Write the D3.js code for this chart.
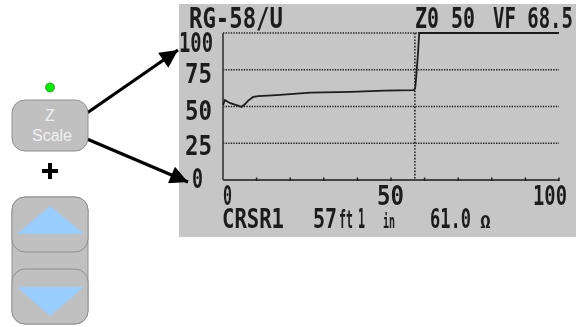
<!DOCTYPE html>
<html><head><meta charset="utf-8">
<script src="https://cdn.jsdelivr.net/npm/d3@7/dist/d3.min.js"></script>
<style>html,body{margin:0;padding:0;background:#fff}svg{display:block}</style>
</head><body><svg id="c" width="576" height="327"></svg>
<script>
const yTicks = [0, 25, 50, 75, 100];
const xTickLabels = [0, 50, 100];
const xMinorTicks = [10, 20, 30, 40, 50, 60, 70, 80, 90, 100];
const traceX = [0, 0.6, 2, 4, 5.5, 6.5, 7.5, 9, 10.5, 16, 26, 38, 48, 56.8, 57.2, 57.5, 58, 58.4, 100];
const traceY = [51, 54.4, 52.4, 51, 49.7, 51.5, 54, 56.5, 57.1, 57.8, 59.4, 60, 60.8, 61.2, 62.5, 70, 85, 100, 100];
const cursorX = 57.1;
const title = "RG-58/U";
const header = ["Z0 50", "VF 68.5"];
const readout = ["CRSR1", "57", "ft", "1", "in", "61.0", "Ω"];
const buttonLabel = ["Z", "Scale"];

const svg = d3.select("#c");
const defs = svg.append("defs");
defs.append("filter").attr("id","soft").attr("x","-5%").attr("y","-5%").attr("width","110%").attr("height","110%")
  .append("feGaussianBlur").attr("stdDeviation",0.45);
defs.append("marker").attr("id","head").attr("viewBox","0 0 10 10").attr("refX",10).attr("refY",5)
  .attr("markerUnits","userSpaceOnUse").attr("markerWidth",20).attr("markerHeight",18).attr("orient","auto")
  .append("path").attr("d","M0,0L10,5L0,10Z").attr("fill","#000");

svg.append("rect").attr("x",179).attr("y",4).attr("width",397).attr("height",233).attr("fill","#c6c6c6");
const x = d3.scaleLinear().domain([0,100]).range([223,559]);
const y = d3.scaleLinear().domain([0,100]).range([180,33]);
const yLab = d3.scaleLinear().domain(yTicks).range([188,155,120,83,52]);
const lcd = svg.append("g").attr("filter","url(#soft)");
const ink = "#1c1c1c";

// Narrow glyphs to the target width by measuring them, then scaling horizontally
function txt(s, x0, x1, base, size){
  const t = lcd.append("text").text(s)
    .attr("font-family","'DejaVu Sans Mono'").attr("font-weight","bold").attr("font-size",size)
    .attr("fill",ink);
  const bb = t.node().getBBox();
  const sx = (x1-x0)/bb.width;
  t.attr("transform",`translate(${x0},${base}) scale(${sx},1)`);
}

// grid
lcd.selectAll("line.grid").data(yTicks.filter(d=>d>0)).join("line")
  .attr("x1",x(0)).attr("x2",x(100)).attr("y1",d=>y(d)).attr("y2",d=>y(d))
  .attr("stroke","#222").attr("stroke-width",1.5).attr("stroke-dasharray","1.4 1.2");
// cursor
lcd.append("line").attr("x1",x(cursorX)).attr("x2",x(cursorX)).attr("y1",y(100)).attr("y2",y(0))
  .attr("stroke","#222").attr("stroke-width",1.6).attr("stroke-dasharray","1.6 1.6");
// axes
lcd.append("line").attr("x1",x(0)).attr("x2",x(0)).attr("y1",y(100)).attr("y2",y(0)).attr("stroke","#444").attr("stroke-width",1.8);
lcd.append("line").attr("x1",x(0)).attr("x2",x(100)).attr("y1",y(0)).attr("y2",y(0)).attr("stroke","#444").attr("stroke-width",1.8);
lcd.selectAll("line.tk").data(xMinorTicks).join("line")
  .attr("x1",d=>x(d)).attr("x2",d=>x(d)).attr("y1",y(0)-2.5).attr("y2",y(0)+1).attr("stroke","#222").attr("stroke-width",1.5);
// trace
const line = d3.line().x(d=>x(d[0])).y(d=>y(d[1]));
lcd.append("path").attr("d",line(traceX.map((v,i)=>[v,traceY[i]]))).attr("fill","none")
  .attr("stroke","#1e1e1e").attr("stroke-width",1.8);

// labels
const yLabW = {0:[192,203],25:[185,212],50:[185,212],75:[185,212],100:[179,213]};
yTicks.forEach(t=>txt(String(t), yLabW[t][0], yLabW[t][1], yLab(t), 27));
const xLabW = {0:[223,232],50:[377,404],100:[533,567]};
xTickLabels.forEach(t=>txt(String(t), xLabW[t][0], xLabW[t][1], 205, 27));
txt(title,189,283,28,29);
txt(header[0],415,475,28,29);
txt(header[1],493,573,28,29);
txt(readout[0],222,284,228,27);
txt(readout[1],313,337,228,27);
txt(readout[2],339,353,228,24);
txt(readout[3],358,365,228,27);
txt(readout[4],383,395,228,20);
txt(readout[5],430,471,228,27);
txt(readout[6],480,491,228,18);

// arrows
svg.append("line").attr("x1",87).attr("y1",113).attr("x2",178).attr("y2",50)
  .attr("stroke","#000").attr("stroke-width",3.2).attr("marker-end","url(#head)");
svg.append("line").attr("x1",87).attr("y1",139).attr("x2",188).attr("y2",182)
  .attr("stroke","#000").attr("stroke-width",3.2).attr("marker-end","url(#head)");

// controls
const btnFill="#c0c0c0", btnStroke="#8f8f8f";
svg.append("circle").attr("cx",50).attr("cy",87.5).attr("r",4.5).attr("fill","#00f000").attr("stroke","#2e7d2e").attr("stroke-width",0.8);
svg.append("rect").attr("x",12).attr("y",100).attr("width",76).attr("height",51).attr("rx",13)
  .attr("fill",btnFill).attr("stroke",btnStroke);
svg.append("text").text(buttonLabel[0]).attr("x",50).attr("y",120.5).attr("text-anchor","middle")
  .attr("font-family","'Liberation Sans'").attr("font-size",16).attr("fill","#f0f0f0");
svg.append("text").text(buttonLabel[1]).attr("x",52).attr("y",141).attr("text-anchor","middle")
  .attr("font-family","'Liberation Sans'").attr("font-size",16).attr("fill","#f0f0f0");
svg.append("path").attr("d","M42,171H58M50,163V179").attr("stroke","#000").attr("stroke-width",4).attr("fill","none");

svg.append("rect").attr("x",12).attr("y",197).attr("width",76).attr("height",127).attr("rx",13)
  .attr("fill",btnFill).attr("stroke",btnStroke);
svg.append("rect").attr("x",12).attr("y",197).attr("width",76).attr("height",55).attr("rx",13)
  .attr("fill",btnFill).attr("stroke",btnStroke);
svg.append("rect").attr("x",12).attr("y",269).attr("width",76).attr("height",55).attr("rx",13)
  .attr("fill",btnFill).attr("stroke",btnStroke);
svg.append("path").attr("d","M50,206L84,234H17Z").attr("fill","#99ccff");
svg.append("path").attr("d","M17,287H84L50,316Z").attr("fill","#99ccff");
</script></body></html>
